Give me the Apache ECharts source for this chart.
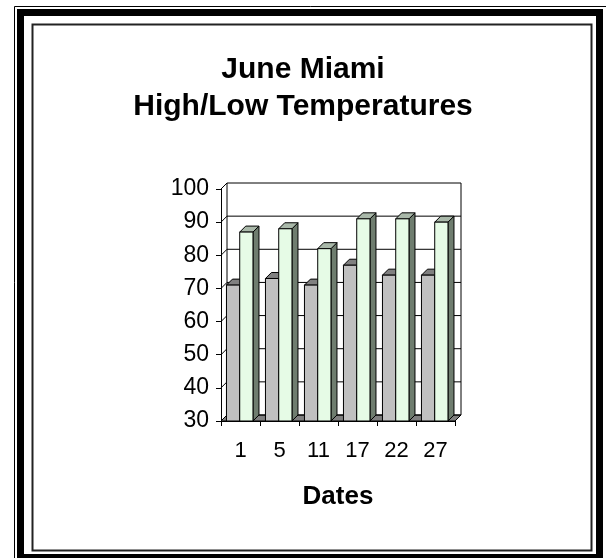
<!DOCTYPE html>
<html>
<head>
<meta charset="utf-8">
<script src="https://cdn.jsdelivr.net/npm/echarts@6/dist/echarts.min.js"></script>
<style>
  html, body { margin: 0; padding: 0; background: #ffffff; }
  #chart { width: 606px; height: 558px; }
</style>
</head>
<body>
<div id="chart"></div>
<script>
// ---- data ----
const categories = ['1', '5', '11', '17', '22', '27'];
const lowTemps = [71, 73, 71, 77, 74, 74];
const highTemps = [87, 88, 82, 91, 91, 90];
const yTicks = [30, 40, 50, 60, 70, 80, 90, 100];
const titleLines = ['June Miami', 'High/Low Temperatures'];
const xAxisTitle = 'Dates';

// ---- style ----
const Y_MIN = 30, Y_MAX = 100, Y_STEP = 10;
const DX = 6, DY = 6;
const FONT = '"Liberation Sans", Arial, Helvetica, sans-serif';
const barStyles = [
  { offset: 0.14, width: 0.34, front: '#c0c0c0', top: '#808080', side: '#808080' },
  { offset: 0.48, width: 0.34, front: '#e6fbe6', top: '#a9b8a9', side: '#6f7d6f' }
];

function barRenderer(k) {
  const st = barStyles[k];
  return function (params, api) {
    const i = api.value(0);
    const v = api.value(1);
    const topPt = api.coord([i, v]);
    const basePt = api.coord([i, Y_MIN]);
    const bw = api.size([1, 0])[0];
    const bandStart = topPt[0] - bw / 2;
    const x0 = bandStart + bw * st.offset;
    const w = bw * st.width;
    const yt = topPt[1], yb = basePt[1];
    const stroke = { stroke: '#000', lineWidth: 1 };
    return {
      type: 'group',
      children: [
        { type: 'polygon', shape: { points: [[x0 + w, yt], [x0 + w + DX, yt - DY], [x0 + w + DX, yb - DY], [x0 + w, yb]] },
          style: Object.assign({ fill: st.side }, stroke) },
        { type: 'polygon', shape: { points: [[x0, yt], [x0 + w, yt], [x0 + w + DX, yt - DY], [x0 + DX, yt - DY]] },
          style: Object.assign({ fill: st.top }, stroke) },
        { type: 'rect', shape: { x: x0, y: yt, width: w, height: yb - yt },
          style: Object.assign({ fill: st.front }, stroke) }
      ]
    };
  };
}

function wallRenderer(params, api) {
  const v = api.value(1);
  const p = api.coord([0, v]);
  const bw = api.size([1, 0])[0];
  const left = p[0] - bw / 2;
  const right = left + bw * categories.length;
  const ls = { stroke: '#000', lineWidth: 1 };
  const children = [
    { type: 'line', shape: { x1: left, y1: p[1], x2: left + DX, y2: p[1] - DY }, style: ls },
    { type: 'line', shape: { x1: left + DX, y1: p[1] - DY, x2: right + DX, y2: p[1] - DY }, style: ls }
  ];
  if (params.dataIndex === 0) {
    const yb = api.coord([0, Y_MIN])[1];
    const ytop = api.coord([0, Y_MAX])[1];
    children.unshift(
      { type: 'polygon', shape: { points: [[left, yb], [right, yb], [right + DX, yb - DY], [left + DX, yb - DY]] },
        style: { fill: '#808080', stroke: '#000', lineWidth: 1 } },
      { type: 'line', shape: { x1: left + DX, y1: ytop - DY, x2: left + DX, y2: yb - DY }, style: ls },
      { type: 'line', shape: { x1: right + DX, y1: ytop - DY, x2: right + DX, y2: yb - DY }, style: ls }
    );
  }
  return { type: 'group', children: children };
}

const chart = echarts.init(document.getElementById('chart'), null, { renderer: 'canvas' });
chart.setOption({
  backgroundColor: '#ffffff',
  animation: false,
  title: {
    text: titleLines.join('\n'),
    left: 'center',
    top: 46,
    textStyle: { fontFamily: FONT, fontSize: 30, fontWeight: 'bold', color: '#000', lineHeight: 37 }
  },
  graphic: [
    { type: 'rect', silent: true, z: -10, shape: { x: 14.5, y: 6.5, width: 600, height: 570 },
      style: { fill: null, stroke: '#000', lineWidth: 1 } },
    { type: 'rect', silent: true, z: -10, shape: { x: 20.5, y: 12.5, width: 579, height: 545 },
      style: { fill: null, stroke: '#000', lineWidth: 7 } },
    { type: 'rect', silent: true, z: -10, shape: { x: 32.5, y: 24.5, width: 559, height: 526 },
      style: { fill: null, stroke: '#222', lineWidth: 2 } }
  ],
  grid: { left: 221, top: 189, width: 234, height: 232, containLabel: false },
  xAxis: {
    type: 'category',
    data: categories,
    boundaryGap: true,
    name: xAxisTitle,
    nameLocation: 'middle',
    nameGap: 63,
    nameTextStyle: { fontFamily: FONT, fontSize: 26, fontWeight: 'bold', color: '#000' },
    axisLine: { show: true, lineStyle: { color: '#000', width: 1 } },
    axisTick: { show: true, length: 5, lineStyle: { color: '#000' } },
    axisLabel: { fontFamily: FONT, fontSize: 22, color: '#000', margin: 19 },
    splitLine: { show: false }
  },
  yAxis: {
    type: 'value',
    min: Y_MIN,
    max: Y_MAX,
    interval: Y_STEP,
    axisLine: { show: true, lineStyle: { color: '#000', width: 1 } },
    axisTick: { show: true, length: 5, lineStyle: { color: '#000' } },
    axisLabel: { fontFamily: FONT, fontSize: 23, color: '#000', margin: 12 },
    splitLine: { show: false }
  },
  series: [
    { type: 'custom', name: 'walls', z: 1, clip: false, renderItem: wallRenderer,
      data: yTicks.map(function (v) { return [0, v]; }), encode: { x: 0, y: 1 }, silent: true },
    { type: 'custom', name: 'Low', z: 3, clip: false, renderItem: barRenderer(0),
      data: lowTemps.map(function (v, i) { return [i, v]; }), encode: { x: 0, y: 1 } },
    { type: 'custom', name: 'High', z: 4, clip: false, renderItem: barRenderer(1),
      data: highTemps.map(function (v, i) { return [i, v]; }), encode: { x: 0, y: 1 } }
  ]
});
</script>
</body>
</html>
